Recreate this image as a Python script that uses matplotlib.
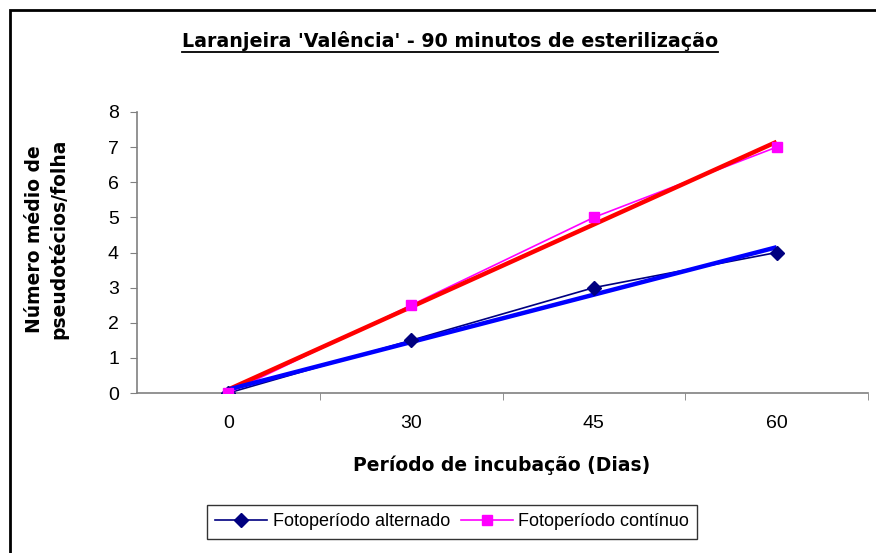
import numpy as np
import matplotlib
matplotlib.use("Agg")
import matplotlib.pyplot as plt
from matplotlib.patches import Rectangle
from matplotlib.lines import Line2D

plt.rcParams["font.family"] = ["Liberation Sans", "DejaVu Sans"]

# data
periods = ["0", "30", "45", "60"]
alternado = [0, 1.5, 3, 4]
continuo = [0, 2.5, 5, 7]
y_ticks = [0, 1, 2, 3, 4, 5, 6, 7, 8]

title = "Laranjeira 'Valência' - 90 minutos de esterilização"
x_label = "Período de incubação (Dias)"
y_label = "Número médio de\npseudotécios/folha"
legend_labels = ["Fotoperíodo alternado", "Fotoperíodo contínuo"]

W, H = 876, 553
fig = plt.figure(figsize=(W / 100, H / 100), dpi=100)
ax = fig.add_axes([137 / W, 1 - 393 / H, (868 - 137) / W, (393 - 112) / H])

x = np.arange(1, len(periods) + 1)

# linear trendlines (as Excel does, on category index)
fit_alt = np.polyfit(x, alternado, 1)
fit_con = np.polyfit(x, continuo, 1)

ax.plot(x, alternado, color="#000080", lw=1.2, zorder=2)
ax.plot(x, continuo, color="#FF00FF", lw=1.2, zorder=2)
ax.plot(x, np.polyval(fit_con, x), color="#FF0000", lw=3.2, zorder=3, solid_capstyle="butt")
ax.plot(x, np.polyval(fit_alt, x), color="#0000FF", lw=3.2, zorder=3, solid_capstyle="butt")
ax.plot(x, alternado, ls="", marker="D", ms=7.5, color="#000080", zorder=4)
ax.plot(x, continuo, ls="", marker="s", ms=7.5, color="#FF00FF", zorder=4)

ax.set_xlim(0.5, len(periods) + 0.5)
ax.set_ylim(0, 8)
ax.set_yticks(y_ticks)
ax.set_xticks(x)
ax.set_xticklabels(periods)
ax.set_xticks(np.arange(1.5, len(periods) + 1, 1), minor=True)
ax.tick_params(axis="x", which="major", length=0, pad=16, labelsize=14)
ax.tick_params(axis="x", which="minor", length=5, color="#808080", direction="out")
ax.tick_params(axis="y", length=5, color="#808080", labelsize=14, pad=8)

for side in ["top", "right"]:
    ax.spines[side].set_visible(False)
for side in ["left", "bottom"]:
    ax.spines[side].set_color("#808080")
    ax.spines[side].set_linewidth(1.2)

bold_font = ["DejaVu Sans"]
fig.text(502 / W, 1 - 465 / H, x_label, ha="center", va="center",
         fontsize=13.5, fontweight="bold", family=bold_font)
fig.text(47 / W, 1 - 239 / H, y_label, ha="center", va="center",
         fontsize=13.5, fontweight="bold", rotation=90, linespacing=1.25,
         family=bold_font)

t = fig.text(450 / W, 1 - 41 / H, title, ha="center", va="center",
             fontsize=13.7, fontweight="bold", family=bold_font)

# underline the title
fig.canvas.draw()
bb = t.get_window_extent().transformed(fig.transFigure.inverted())
fig.add_artist(Line2D([bb.x0, bb.x1], [1 - 52 / H, 1 - 52 / H],
                      transform=fig.transFigure, color="black", lw=1.3))

handles = [
    Line2D([], [], color="#000080", marker="D", ms=7.5, lw=1.2),
    Line2D([], [], color="#FF00FF", marker="s", ms=7.5, lw=1.2),
]
leg = fig.legend(handles, legend_labels, loc="center", ncol=2,
                 bbox_to_anchor=(452 / W, 1 - 522 / H), fontsize=13,
                 frameon=True, fancybox=False, edgecolor="black",
                 handlelength=2.9, columnspacing=0.6, handletextpad=0.3,
                 borderpad=0.45, borderaxespad=0)
leg.get_frame().set_linewidth(1.0)

# outer chart frame
fig.add_artist(Rectangle((10 / W, -0.05), 1.1, 1 - 10 / H + 0.05,
                         transform=fig.transFigure, fill=False,
                         edgecolor="black", lw=2))

fig.savefig("out.png", dpi=100)
